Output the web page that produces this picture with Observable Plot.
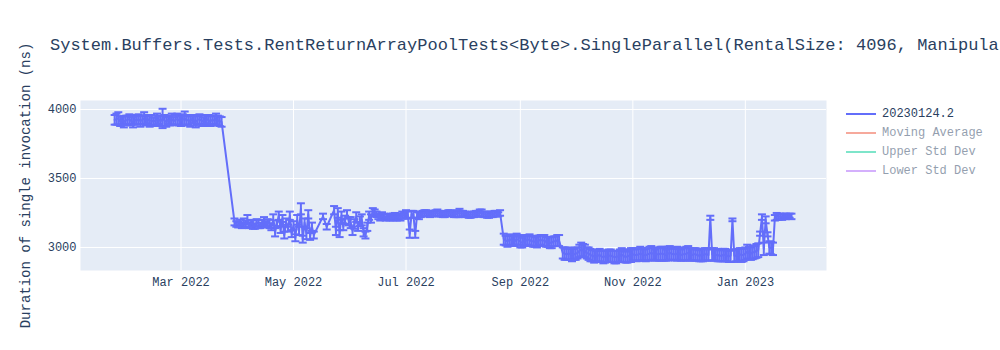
<!DOCTYPE html>
<html>
<head>
<meta charset="utf-8">
<script src="https://cdn.jsdelivr.net/npm/d3@7"></script>
<script src="https://cdn.jsdelivr.net/npm/@observablehq/plot@0.6"></script>
<style>
  html, body { margin: 0; padding: 0; background: white; overflow: hidden; }
  #wrap { position: relative; width: 1000px; height: 350px; overflow: hidden; }
  #title { position: absolute; left: 50px; top: 37px; font-family: "Liberation Mono", monospace; font-size: 17px; line-height: 17px; color: #2a3f5f; white-space: nowrap; }
  .leg { position: absolute; left: 846px; font-family: "Liberation Mono", monospace; font-size: 12px; line-height: 12px; color: #2a3f5f; white-space: nowrap; display: flex; align-items: center; }
  .leg .sw { display: inline-block; width: 30px; height: 2px; margin-right: 6px; }
</style>
</head>
<body>
<div id="wrap">
  <div id="chart"></div>
  <div id="title"></div>
  <div id="legend"></div>
</div>
<script>
const titleText = "System.Buffers.Tests.RentReturnArrayPoolTests<Byte>.SingleParallel(RentalSize: 4096, ManipulateArray: False, Async: True, UseSharedPool: False)";
const yLabel = "Duration of single invocation (ns)";
const legendLabels = ["20230124.2", "Moving Average", "Upper Std Dev", "Lower Std Dev"];
const legendColors = ["#636efa", "#EF553B", "#00cc96", "#ab63fa"];
const legendVisible = [true, false, false, false];
const xTicks = ["2022-03-01", "2022-05-01", "2022-07-01", "2022-09-01", "2022-11-01", "2023-01-01"];
const yTicks = [3000, 3500, 4000];

const dates = [
  "2022-01-24","2022-01-25","2022-01-26","2022-01-27","2022-01-28","2022-01-29","2022-01-30","2022-01-31",
  "2022-02-01","2022-02-02","2022-02-03","2022-02-04","2022-02-05","2022-02-06","2022-02-07","2022-02-08","2022-02-09","2022-02-10",
  "2022-02-11","2022-02-12","2022-02-13","2022-02-14","2022-02-15","2022-02-16","2022-02-17","2022-02-18","2022-02-19","2022-02-20",
  "2022-02-21","2022-02-22","2022-02-23","2022-02-24","2022-02-25","2022-02-26","2022-02-27","2022-02-28",
  "2022-03-01","2022-03-02","2022-03-03","2022-03-04","2022-03-05","2022-03-06","2022-03-07","2022-03-08","2022-03-09","2022-03-10",
  "2022-03-11","2022-03-12","2022-03-13","2022-03-14","2022-03-15","2022-03-16","2022-03-17","2022-03-18","2022-03-19","2022-03-20",
  "2022-03-21","2022-03-22","2022-03-23",
  "2022-03-30","2022-03-31",
  "2022-04-01","2022-04-02","2022-04-03","2022-04-04","2022-04-05","2022-04-06","2022-04-07","2022-04-08","2022-04-09","2022-04-10",
  "2022-04-11","2022-04-12","2022-04-13","2022-04-14","2022-04-15","2022-04-16","2022-04-17","2022-04-18","2022-04-19",
  "2022-04-20","2022-04-21","2022-04-22","2022-04-23","2022-04-24","2022-04-25","2022-04-26","2022-04-27","2022-04-28","2022-04-29","2022-04-30",
  "2022-05-01","2022-05-02","2022-05-03","2022-05-04","2022-05-05","2022-05-06","2022-05-07","2022-05-08","2022-05-09","2022-05-10",
  "2022-05-11","2022-05-12","2022-05-17","2022-05-19",
  "2022-05-23","2022-05-24","2022-05-25","2022-05-26","2022-05-27","2022-05-28","2022-05-29","2022-05-30","2022-05-31",
  "2022-06-01","2022-06-02","2022-06-03","2022-06-04","2022-06-05","2022-06-06","2022-06-07","2022-06-08","2022-06-09","2022-06-10",
  "2022-06-11","2022-06-12","2022-06-13","2022-06-14","2022-06-15","2022-06-16","2022-06-17","2022-06-18","2022-06-19","2022-06-20",
  "2022-06-21","2022-06-22","2022-06-23","2022-06-24","2022-06-25","2022-06-26","2022-06-27","2022-06-28","2022-06-29","2022-06-30",
  "2022-07-01","2022-07-02","2022-07-03","2022-07-04","2022-07-05","2022-07-06","2022-07-07","2022-07-08","2022-07-09","2022-07-10",
  "2022-07-11","2022-07-12","2022-07-13","2022-07-14","2022-07-15","2022-07-16","2022-07-17","2022-07-18","2022-07-19","2022-07-20",
  "2022-07-21","2022-07-22","2022-07-23","2022-07-24","2022-07-25","2022-07-26","2022-07-27","2022-07-28","2022-07-29","2022-07-30",
  "2022-07-31",
  "2022-08-01","2022-08-02","2022-08-03","2022-08-04","2022-08-05","2022-08-06","2022-08-07","2022-08-08","2022-08-09","2022-08-10",
  "2022-08-11","2022-08-12","2022-08-13","2022-08-14","2022-08-15","2022-08-16","2022-08-17","2022-08-18","2022-08-19","2022-08-20",
  "2022-08-21",
  "2022-08-23","2022-08-24","2022-08-25","2022-08-26","2022-08-27","2022-08-28","2022-08-29","2022-08-30","2022-08-31",
  "2022-09-01","2022-09-02","2022-09-03","2022-09-04","2022-09-05","2022-09-06","2022-09-07","2022-09-08","2022-09-09","2022-09-10",
  "2022-09-11","2022-09-12","2022-09-13","2022-09-14","2022-09-15","2022-09-16","2022-09-17","2022-09-18","2022-09-19","2022-09-20",
  "2022-09-21","2022-09-22",
  "2022-09-24","2022-09-25","2022-09-26","2022-09-27","2022-09-28","2022-09-29","2022-09-30",
  "2022-10-01","2022-10-02","2022-10-03","2022-10-04","2022-10-05","2022-10-06","2022-10-07","2022-10-08","2022-10-09","2022-10-10",
  "2022-10-11","2022-10-12","2022-10-13","2022-10-14","2022-10-15","2022-10-16","2022-10-17","2022-10-18","2022-10-19","2022-10-20",
  "2022-10-21","2022-10-22","2022-10-23","2022-10-24","2022-10-25","2022-10-26","2022-10-27","2022-10-28","2022-10-29","2022-10-30",
  "2022-10-31",
  "2022-11-01","2022-11-02","2022-11-03","2022-11-04","2022-11-05","2022-11-06","2022-11-07","2022-11-08","2022-11-09","2022-11-10",
  "2022-11-11","2022-11-12","2022-11-13","2022-11-14","2022-11-15","2022-11-16","2022-11-17","2022-11-18","2022-11-19","2022-11-20",
  "2022-11-21","2022-11-22","2022-11-23","2022-11-24","2022-11-25","2022-11-26","2022-11-27","2022-11-28","2022-11-29","2022-11-30",
  "2022-12-01","2022-12-02","2022-12-03","2022-12-04","2022-12-05","2022-12-06","2022-12-07","2022-12-08","2022-12-09","2022-12-10",
  "2022-12-11","2022-12-12","2022-12-13","2022-12-14","2022-12-15","2022-12-16","2022-12-17","2022-12-18","2022-12-19","2022-12-20",
  "2022-12-21","2022-12-22","2022-12-23","2022-12-24","2022-12-25","2022-12-26","2022-12-27","2022-12-28","2022-12-29","2022-12-30",
  "2022-12-31",
  "2023-01-01","2023-01-02","2023-01-03","2023-01-04","2023-01-05","2023-01-06","2023-01-07","2023-01-08","2023-01-09","2023-01-10",
  "2023-01-11","2023-01-12","2023-01-13","2023-01-14","2023-01-15","2023-01-16","2023-01-17","2023-01-18","2023-01-19","2023-01-20",
  "2023-01-21","2023-01-22","2023-01-23","2023-01-24","2023-01-25","2023-01-26"
];

const durations = [
  3925,3930,3935,3915,3920,3910,3920,3925,
  3930,3915,3910,3925,3920,3930,3915,3925,3935,3920,
  3930,3915,3925,3910,3920,3930,3925,3915,3935,3920,
  3910,3925,3920,3930,3915,3925,3930,3920,
  3915,3925,3935,3920,3925,3915,3930,3920,3910,3925,
  3930,3920,3915,3925,3930,3920,3915,3925,3920,3930,
  3920,3915,3910,
  3185,3170,
  3165,3175,3160,3180,3170,3200,3160,3175,3165,3155,
  3180,3170,3160,3175,3190,3165,3180,3170,3150,
  3200,3110,3170,3230,3130,3210,3090,3180,3140,3230,3100,
  3160,3070,3200,3120,3280,3060,3180,3100,3240,3080,
  3150,3090,3225,3150,
  3270,3120,3250,3100,3230,3150,3200,3240,3190,
  3180,3120,3170,3220,3150,3190,3200,3110,3090,3150,
  3230,3210,3260,3250,3240,3225,3215,3230,3225,3210,
  3220,3215,3225,3220,3230,3215,3225,3220,3235,3230,
  3240,3235,3100,3240,3240,3095,3235,3230,3240,3245,
  3250,3250,3245,3240,3245,3245,3250,3250,3245,3245,
  3240,3240,3245,3250,3250,3245,3240,3240,3245,3250,
  3245,
  3245,3240,3240,3235,3235,3240,3240,3245,3245,3250,
  3250,3240,3240,3235,3235,3240,3240,3245,3245,3240,
  3250,
  3060,3050,3045,3055,3055,3050,3045,3060,3055,
  3040,3035,3050,3050,3055,3055,3045,3045,3040,3040,
  3050,3055,3050,3050,3040,3040,3035,3035,3045,3045,
  3050,3050,
  2960,2955,2950,2955,2955,2945,2950,
  2955,2960,2975,2985,2980,2975,2960,2955,2945,2940,
  2935,2935,2940,2945,2935,2930,2935,2935,2940,2940,
  2935,2930,2930,2935,2940,2945,2940,2930,2935,2940,
  2945,
  2950,2945,2945,2950,2955,2950,2945,2945,2950,2955,
  2960,2955,2945,2950,2950,2955,2955,2950,2945,2955,
  2960,2955,2950,2950,2955,2955,2945,2950,2950,2955,
  2960,2950,2945,2950,2950,2945,2940,2945,2945,2950,
  2950,2945,3215,2950,2950,2945,2945,2940,2940,2945,
  2945,2940,2935,2940,3200,2940,2940,2945,2950,2945,
  2945,
  2955,2970,2960,2955,2965,2965,2975,2980,3100,3220,
  2990,3200,3095,3000,2995,2990,3215,3225,3220,3225,
  3220,3230,3225,3225,3230,3225
];

const errors = [
  35,40,45,35,30,40,35,30,
  35,30,40,35,30,35,40,30,45,35,
  30,40,35,30,35,40,30,35,70,40,
  35,30,35,40,30,35,40,35,
  35,40,50,30,35,40,30,35,40,30,
  35,40,30,35,30,40,35,30,35,40,
  35,35,35,
  25,20,
  20,25,20,30,25,35,20,25,30,20,
  25,30,20,25,30,20,25,30,25,
  40,30,25,30,25,25,25,30,25,30,25,
  30,25,35,30,40,25,30,40,30,25,
  30,25,20,20,
  30,30,35,25,30,25,30,30,30,
  40,30,35,35,30,35,40,30,25,30,
  30,30,25,25,20,20,20,25,20,15,
  20,20,20,25,20,20,20,25,25,20,
  30,25,30,25,25,25,20,25,20,20,
  20,20,20,20,20,15,20,25,20,20,
  20,20,15,20,20,20,20,20,25,30,
  20,
  20,20,15,20,20,20,20,20,20,25,
  25,20,20,20,20,20,20,20,20,15,
  20,
  40,35,40,35,40,35,35,40,35,
  40,35,35,40,35,40,35,40,35,40,
  35,35,40,40,35,35,40,40,35,35,
  40,40,
  40,45,40,45,40,45,40,
  45,40,45,50,45,45,40,45,45,40,
  45,40,45,45,40,45,45,40,45,45,
  40,45,45,40,45,50,45,40,45,45,
  50,
  45,40,45,45,50,45,40,45,45,50,
  50,45,40,45,45,50,50,45,40,50,
  50,45,40,45,50,45,40,45,45,50,
  50,45,40,45,45,40,40,45,45,45,
  45,40,15,45,45,40,45,40,40,45,
  45,40,40,45,10,45,40,45,45,50,
  45,
  45,50,45,45,50,45,50,50,15,20,
  45,25,15,45,45,45,20,25,20,20,
  20,15,20,15,15,20
];

if (dates.length !== durations.length || dates.length !== errors.length) {
  console.error("length mismatch", dates.length, durations.length, errors.length);
}

const parse = d3.utcParse("%Y-%m-%d");
const data = dates.map((d, i) => ({date: parse(d), value: durations[i], err: errors[i]}));
const xTickDates = xTicks.map(parse);
const color = "#636efa";

const capSymbol = {
  draw(context) {
    context.moveTo(-4, 0);
    context.lineTo(4, 0);
  }
};

const chart = Plot.plot({
  width: 1000,
  height: 350,
  marginLeft: 80,
  marginRight: 174,
  marginTop: 100,
  marginBottom: 80,
  style: {background: "white", fontFamily: "Liberation Mono, monospace", fontSize: "12px", color: "#2a3f5f"},
  x: {type: "utc", domain: [new Date(Date.UTC(2022, 0, 5, 12)), new Date(Date.UTC(2023, 1, 14))], label: null},
  y: {domain: [2833, 4065], label: null},
  marks: [
    Plot.frame({fill: "#E5ECF6", stroke: "none"}),
    Plot.gridX(xTickDates, {stroke: "white", strokeOpacity: 1, strokeWidth: 1}),
    Plot.gridY(yTicks, {stroke: "white", strokeOpacity: 1, strokeWidth: 1}),
    Plot.axisX({ticks: xTickDates, tickFormat: d3.utcFormat("%b %Y"), tickSize: 0, tickPadding: 7, label: null}),
    Plot.axisY({ticks: yTicks, tickFormat: d => String(d), tickSize: 0, tickPadding: 4, label: null}),
    Plot.link(data, {x1: "date", x2: "date", y1: d => d.value - d.err, y2: d => d.value + d.err, stroke: color, strokeWidth: 2}),
    Plot.dot(data, {x: "date", y: d => d.value + d.err, symbol: capSymbol, r: 4, fill: "none", stroke: color, strokeWidth: 2}),
    Plot.dot(data, {x: "date", y: d => d.value - d.err, symbol: capSymbol, r: 4, fill: "none", stroke: color, strokeWidth: 2}),
    Plot.line(data, {x: "date", y: "value", stroke: color, strokeWidth: 2}),
    Plot.text([yLabel], {frameAnchor: "left", textAnchor: "middle", dx: -55, rotate: -90, fontSize: 14, fill: "#2a3f5f"})
  ]
});
document.getElementById("chart").appendChild(chart);

document.getElementById("title").textContent = titleText;

const legend = document.getElementById("legend");
legendLabels.forEach((label, i) => {
  const item = document.createElement("div");
  item.className = "leg";
  item.style.top = (108 + i * 19) + "px";
  if (!legendVisible[i]) item.style.opacity = "0.5";
  const sw = document.createElement("span");
  sw.className = "sw";
  sw.style.background = legendColors[i];
  const txt = document.createElement("span");
  txt.textContent = label;
  item.appendChild(sw);
  item.appendChild(txt);
  legend.appendChild(item);
});
</script>
</body>
</html>
